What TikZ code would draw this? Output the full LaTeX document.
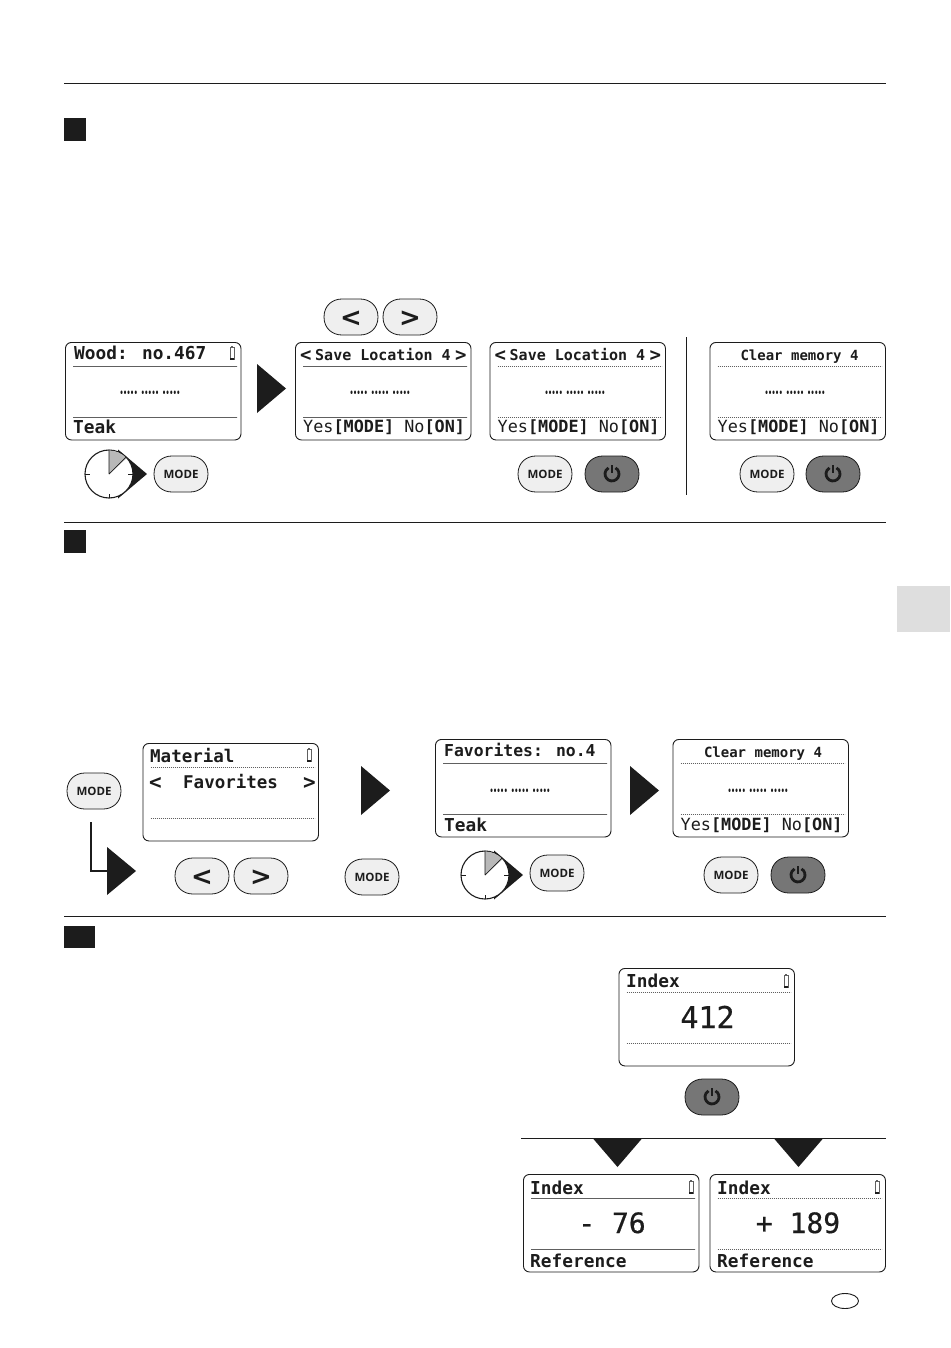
\documentclass[tikz,border=0pt]{standalone}
\usepackage{graphicx}
\usepackage{fontspec}
\setmainfont{DejaVu Sans Mono}
\newfontfamily\midfont[FakeBold=0.6]{DejaVu Sans Mono}
\newfontfamily\btnfont{Open Sans}
\newfontfamily\arrfont{DejaVu Sans}
\definecolor{ink}{HTML}{1C1C1C}
\definecolor{btnlight}{HTML}{EFEFEF}
\definecolor{btndark}{HTML}{767676}
\tikzset{
  rulerline/.style={draw=ink,line width=0.9pt},
  screenbox/.style={draw=ink,line width=0.9pt,rounded corners=6pt,fill=white,minimum width=175.5pt,minimum height=97.5pt,anchor=north west,inner sep=0pt},
  lcdrule/.style={draw=ink!70,line width=1pt,dash pattern=on 1.6pt off 0.4pt},
  lcd/.style={anchor=base west,inner sep=0pt,text=ink},
  lcdmid/.style={anchor=base,inner sep=0pt,text=ink},
  btntext/.style={anchor=center,inner sep=0pt,text=ink,font=\btnfont\bfseries\fontsize{11.5}{12}\selectfont},
  btnarrow/.style={anchor=center,inner sep=0pt,text=ink,yshift=-1.5pt,font=\arrfont\bfseries\fontsize{26}{26}\selectfont},
  tri/.style={fill=ink,draw=none},
  btnshape/.style={draw=ink,line width=0.8pt}
}
\newcommand{\fs}[1]{\fontsize{#1}{#1}\selectfont}
\newcommand{\btnout}[3]{%
  \draw[btnshape,fill=#3,shift={(#1,#2)}] (-27,0) .. controls (-27,-12) and (-18,-18) .. (-9,-18)
    -- (9,-18) .. controls (18,-18) and (27,-12) .. (27,0)
    .. controls (27,12) and (18,18) .. (9,18) -- (-9,18)
    .. controls (-18,18) and (-27,12) .. (-27,0) -- cycle;}
\newcommand{\modebtn}[3]{\btnout{#2}{#3}{btnlight}\node[btntext] (#1) at (#2,#3) {MODE};}
\newcommand{\arrbtn}[4]{\btnout{#2}{#3}{btnlight}\node[btnarrow] (#1) at (#2,#3) {#4};}
\newcommand{\powbtn}[3]{\btnout{#2}{#3}{btndark}%
  \coordinate (#1) at (#2,#3);
  \draw[ink,line width=2.8pt,shift={(#2,#3)}] (3.5,-6.1) arc[start angle=60,end angle=-240,radius=7pt];
  \draw[ink,line width=2.8pt,shift={(#2,#3)}] (0,-9) -- (0,-1);}
\newcommand{\screen}[3]{%
  \node[screenbox] (#1) at (#2,#3) {};
  \draw[lcdrule,shift={(#2,#3)}] (8,24) -- (172,24);
  \draw[lcdrule,shift={(#2,#3)}] (8,75) -- (172,75);}
\newcommand{\dotsrow}[3]{\node[lcdmid,font=\bfseries\fs{10}] (#1) at (#2,#3+2) {\scalebox{.59}[1]{••••• ••••• •••••}};}
\newcommand{\battery}[2]{%
  \draw[ink!70,line width=0.7pt,shift={(#1,#2)}] (-2,-5.5) rectangle (2,6.5);
  \fill[ink!70,shift={(#1,#2)}] (-1,-7) rectangle (1,-5.5);
  \fill[ink,shift={(#1,#2)}] (-2,4.5) rectangle (2,6.5);}
\newcommand{\yesno}[3]{\node[lcd,font=\fs{16.8}] (#1) at (#2,#3) {Yes\textbf{[MODE]} No\textbf{[ON]}};}
\newcommand{\clock}[2]{%
  \fill[tri] (#1+9,#2-24.5) -- (#1+38,#2) -- (#1+9,#2+24.5) -- cycle;
  \draw[ink,line width=1.1pt,fill=white] (#1,#2) circle[radius=24pt];
  \fill[black!28] (#1,#2) -- (#1,#2-23.5) arc[start angle=90,end angle=42,radius=23.5pt] -- cycle;
  \draw[ink,line width=0.7pt] (#1,#2) -- (#1,#2-24) (#1,#2) -- (#1+17,#2-17);
  \draw[ink,line width=0.7pt] (#1-24,#2) -- (#1-19,#2) (#1+24,#2) -- (#1+19,#2) (#1,#2+24) -- (#1,#2+20);}
\begin{document}
\begin{tikzpicture}[x=1pt,y=-1pt]
\useasboundingbox (0,0) rectangle (950,1348);
\fill[white] (0,0) rectangle (950,1348);

\draw[rulerline] (64,83.5) -- (886,83.5);
\draw[rulerline] (64,522.5) -- (886,522.5);
\draw[rulerline] (64,916.5) -- (886,916.5);
\draw[rulerline] (521,1138.5) -- (886,1138.5);
\draw[rulerline] (686.5,337) -- (686.5,495);
\fill[ink] (64,118) rectangle (86,141);
\fill[ink] (64,530) rectangle (86,553);
\fill[ink] (64,926) rectangle (95,948);
\fill[black!13] (897,586) rectangle (950,632);
\draw[ink,line width=0.9pt] (845,1301) ellipse[x radius=13.5pt,y radius=7.5pt];

% section 1
\screen{sa}{65}{342}
\node[lcd,font=\bfseries\fs{17.8}] (sat) at (74,359.5) {Wood: no.467};
\battery{232}{353}
\dotsrow{sad}{150}{394}
\node[lcd,font=\bfseries\fs{17.8}] (sab) at (73,433.5) {Teak};

\fill[tri] (257,364) -- (286,388.5) -- (257,413) -- cycle;

\screen{sb}{295}{342}
\node[lcd,font=\bfseries\fs{19}] (sbl) at (300,361) {<};
\node[lcd,font=\bfseries\fs{15}] (sbt) at (315,360) {Save Location 4};
\node[lcd,font=\bfseries\fs{19}] (sbr) at (455,361) {>};
\dotsrow{sbd}{380}{394}
\yesno{sby}{303}{432.5}

\screen{sc}{489.5}{342}
\node[lcd,font=\bfseries\fs{19}] (scl) at (494.5,361) {<};
\node[lcd,font=\bfseries\fs{15}] (sct) at (509.5,360) {Save Location 4};
\node[lcd,font=\bfseries\fs{19}] (scr) at (649.5,361) {>};
\dotsrow{scd}{575}{394}
\yesno{scy}{497.5}{432.5}

\screen{sd}{709.5}{342}
\node[lcdmid,font=\bfseries\fs{14}] (sdt) at (799.5,360) {Clear memory 4};
\dotsrow{sdd}{795}{394}
\yesno{sdy}{717.5}{432.5}

\arrbtn{ba}{351}{317}{<}
\arrbtn{bb}{410}{317}{>}
\clock{109}{474}
\modebtn{bc}{181}{474}
\modebtn{bd}{545}{474}
\powbtn{be}{612}{474}
\modebtn{bf}{767}{474}
\powbtn{bg}{833}{474}

% section 2
\modebtn{m2}{94}{791}
\coordinate (e1) at (91,822);
\coordinate (e2) at (108,871);
\draw[ink,line width=1.6pt] (e1) |- (e2);
\fill[tri] (107,847) -- (136,871) -- (107,895) -- cycle;

\screen{se}{142.5}{743}
\node[lcd,font=\bfseries\fs{17.5}] (set) at (150,762) {Material};
\battery{309}{755}
\node[lcd,font=\bfseries\fs{21}] (sel) at (149,789) {<};
\node[lcd,font=\bfseries\fs{17.5}] (sem) at (183,788.5) {Favorites};
\node[lcd,font=\bfseries\fs{21}] (ser) at (303,789) {>};

\arrbtn{bh}{202}{876}{<}
\arrbtn{bi}{261}{876}{>}
\fill[tri] (361,766) -- (390,790.5) -- (361,815) -- cycle;
\modebtn{bj}{372}{877}

\screen{sf}{435}{739}
\node[lcd,font=\bfseries\fs{16.4}] (sft) at (444,756.5) {Favorites: no.4};
\dotsrow{sfd}{520}{792}
\node[lcd,font=\bfseries\fs{17.8}] (sfb) at (444,831) {Teak};

\fill[tri] (630,766) -- (659,790.5) -- (630,815) -- cycle;

\screen{sg}{672.5}{739}
\node[lcdmid,font=\bfseries\fs{14}] (sgt) at (763,757) {Clear memory 4};
\dotsrow{sgd}{758}{792}
\yesno{sgy}{680.5}{830}

\clock{485}{875}
\modebtn{bk}{557}{873}
\modebtn{bl}{731}{875}
\powbtn{bm}{798}{875}

% section 3
\screen{sh}{618.5}{968}
\node[lcd,font=\bfseries\fs{17.8}] (sht) at (626,987.5) {Index};
\battery{786}{981}
\node[lcdmid,font=\midfont\fs{30}] (shv) at (707.5,1028) {412};
\powbtn{bn}{712}{1097}

\fill[tri] (593,1138.5) -- (642,1138.5) -- (617.5,1167) -- cycle;
\fill[tri] (774,1138.5) -- (823,1138.5) -- (798.5,1167) -- cycle;

\screen{si}{523}{1174}
\node[lcd,font=\bfseries\fs{17.8}] (sit) at (530,1194) {Index};
\battery{691}{1187}
\node[lcdmid,font=\midfont\fs{28}] (siv) at (612,1233) {- 76};
\node[lcd,font=\bfseries\fs{17.8}] (sib) at (530,1267) {Reference};

\screen{sj}{709.5}{1174}
\node[lcd,font=\bfseries\fs{17.8}] (sjt) at (717,1194) {Index};
\battery{877}{1187}
\node[lcdmid,font=\midfont\fs{28}] (sjv) at (798,1233) {+ 189};
\node[lcd,font=\bfseries\fs{17.8}] (sjb) at (717,1267) {Reference};
\end{tikzpicture}
\end{document}
